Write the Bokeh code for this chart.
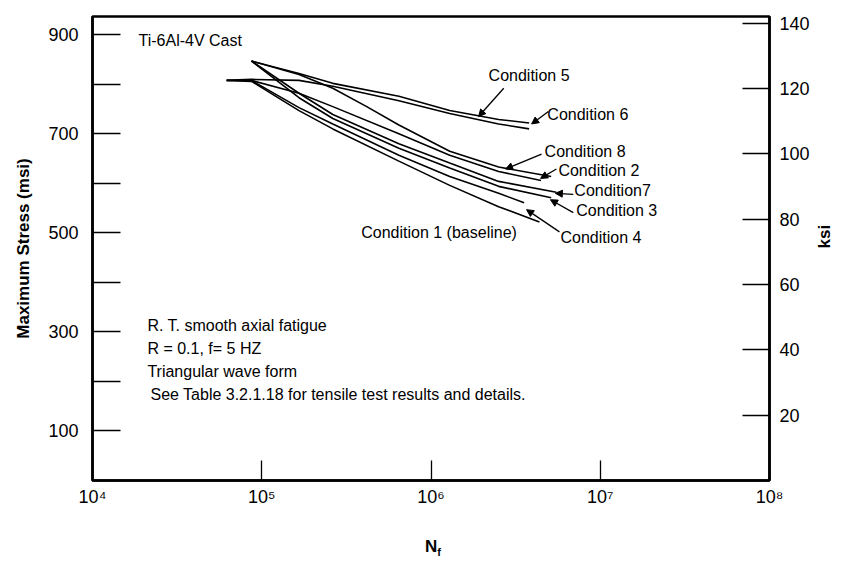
import math
from bokeh.plotting import figure
from bokeh.layouts import column
from bokeh.models import (Range1d, LinearAxis, FixedTicker, Label, Arrow, NormalHead, Div)
from bokeh.embed import file_html
from bokeh.resources import INLINE

# ---------------- data ----------------
# Cycles to failure N_f and maximum stress (MPa)
c5_n = [8.7e4, 1.66e5, 2.63e5, 6.46e5, 1.29e6, 2.51e6, 3.8e6]
c5_s = [847, 822, 802, 776, 747, 729, 722]

c6_n = [6.2e4, 8.7e4, 1.66e5, 2.63e5, 6.46e5, 1.29e6, 2.51e6, 3.8e6]
c6_s = [808, 810, 808, 796, 767, 741, 720, 710]

c8_n = [8.7e4, 1.66e5, 2.63e5, 4.17e5, 6.46e5, 1.29e6, 2.51e6, 5.13e6]
c8_s = [847, 820, 792, 755, 718, 665, 633, 614]

c2_n = [8.7e4, 1.66e5, 2.63e5, 6.46e5, 1.29e6, 2.51e6, 4.47e6]
c2_s = [808, 782, 755, 700, 657, 624, 606]

c7_n = [8.7e4, 1.66e5, 2.63e5, 6.46e5, 1.29e6, 2.51e6, 5.5e6]
c7_s = [847, 782, 739, 680, 641, 604, 582]

c3_n = [8.7e4, 1.66e5, 2.63e5, 6.46e5, 1.29e6, 2.51e6, 5.13e6]
c3_s = [847, 773, 731, 671, 631, 594, 571]

c4_n = [6.2e4, 8.7e4, 1.66e5, 2.63e5, 6.46e5, 1.29e6, 2.51e6, 3.55e6]
c4_s = [808, 808, 753, 720, 657, 614, 580, 561]

c1_n = [6.2e4, 8.7e4, 1.66e5, 2.63e5, 6.46e5, 1.29e6, 2.51e6, 4.37e6]
c1_s = [808, 806, 747, 710, 645, 596, 553, 522]

x_ticks = [1e4, 1e5, 1e6, 1e7, 1e8]
x_tick_labels = ["10\u2074", "10\u2075", "10\u2076", "10\u2077", "10\u2078"]
mpa_ticks = [100, 200, 300, 400, 500, 600, 700, 800, 900]
mpa_labelled = [100, 300, 500, 700, 900]
ksi_ticks = [20, 40, 60, 80, 100, 120, 140]

notes = ["R. T. smooth axial fatigue",
         "R = 0.1, f= 5 HZ",
         "Triangular wave form",
         "See Table 3.2.1.18 for tensile test results and details."]

# ---------------- styling ----------------
FONT = "'Liberation Sans Narrow', 'Arial Narrow', 'Liberation Sans', sans-serif"

p = figure(width=846, height=530, x_axis_type="log",
           x_range=Range1d(1e4, 1e8), y_range=Range1d(0, 937),
           output_backend="svg", toolbar_location=None,
           min_border_left=92, min_border_right=74,
           min_border_top=16, min_border_bottom=50)
p.grid.visible = False
p.outline_line_color = "black"
p.outline_line_width = 2.5
p.background_fill_color = "white"
p.border_fill_color = "white"

def style_axis(ax, tick_in):
    ax.major_tick_in = tick_in
    ax.major_tick_out = 0
    ax.minor_tick_line_color = None
    ax.axis_line_width = 2.5
    ax.axis_line_color = "black"
    ax.major_tick_line_color = "black"
    ax.major_tick_line_width = 1.3
    ax.major_label_text_font = FONT
    ax.major_label_text_font_size = "18px"
    ax.major_label_text_color = "black"
    ax.axis_label_text_font = FONT
    ax.axis_label_text_font_style = "bold"
    ax.axis_label_text_font_size = "17px"
    ax.axis_label_text_color = "black"

# bottom axis
xa = p.xaxis[0]
xa.ticker = FixedTicker(ticks=x_ticks)
xa.major_label_overrides = {t: l for t, l in zip(x_ticks, x_tick_labels)}
style_axis(xa, 20)
xa.major_label_standoff = 6

# left axis
ya = p.yaxis[0]
ya.ticker = FixedTicker(ticks=mpa_ticks)
ya.major_label_overrides = {t: (str(t) if t in mpa_labelled else "") for t in mpa_ticks}
style_axis(ya, 28)
ya.major_label_standoff = 14
ya.axis_label = "Maximum Stress (msi)"
ya.axis_label_standoff = 12

# right axis (ksi)
p.extra_y_ranges = {"ksi": Range1d(0, 142)}
ra = LinearAxis(y_range_name="ksi", ticker=FixedTicker(ticks=ksi_ticks))
style_axis(ra, 27)
ra.major_label_standoff = 10
ra.axis_label = "ksi"
ra.axis_label_orientation = math.pi / 2
ra.axis_label_standoff = 12
p.add_layout(ra, "right")

# curves
for n, s in [(c5_n, c5_s), (c6_n, c6_s), (c8_n, c8_s), (c2_n, c2_s),
             (c7_n, c7_s), (c3_n, c3_s), (c4_n, c4_s), (c1_n, c1_s)]:
    p.line(n, s, line_color="black", line_width=1.6)

def txt(x, y, t, size="16px", style="normal", align="left"):
    p.add_layout(Label(x=x, y=y, text=t, text_font=FONT, text_font_size=size,
                       text_font_style=style, text_align=align,
                       text_baseline="middle", text_color="black"))

def arr(x0, y0, x1, y1):
    p.add_layout(Arrow(end=NormalHead(size=7, fill_color="black", line_color="black"),
                       x_start=x0, y_start=y0, x_end=x1, y_end=y1,
                       line_color="black", line_width=1.3))

txt(1.87e4, 888, "Ti-6Al-4V Cast", size="16px")
txt(2.19e6, 818, "Condition 5", size="16px")
txt(4.87e6, 739, "Condition 6", size="16px")
txt(4.69e6, 665, "Condition 8", size="16px")
txt(5.66e6, 627, "Condition 2", size="16px")
txt(7.03e6, 586, "Condition7", size="16px")
txt(7.22e6, 545, "Condition 3", size="16px")
txt(5.82e6, 490, "Condition 4", size="16px")
txt(3.87e5, 500, "Condition 1 (baseline)", size="16px")

arr(2.69e6, 792, 1.91e6, 735)
arr(4.94e6, 745, 3.93e6, 720)
arr(4.50e6, 659, 2.76e6, 629)
arr(5.51e6, 629, 4.44e6, 610)
arr(6.93e6, 578, 5.43e6, 580)
arr(6.93e6, 541, 5.08e6, 567)
arr(5.74e6, 502, 3.67e6, 547)

note_x = [2.11e4, 2.11e4, 2.11e4, 2.2e4]
for i, line in enumerate(notes):
    txt(note_x[i], 314 - 47 * i, line, size="16px")

# x-axis title N_f (subscript needs HTML), placed under the figure
xlabel = Div(text=('<div style="margin:7px 0 0 425px; font-family:\'Liberation Sans\', sans-serif; '
                   'font-weight:bold; font-size:17px; line-height:20px; color:#000; white-space:nowrap">'
                   'N<sub style="font-size:11px">f</sub></div>'),
             width=846, height=32, margin=(0, 0, 0, 0))

layout = column(p, xlabel, spacing=0)
open("out.html", "w").write(file_html(layout, INLINE))
